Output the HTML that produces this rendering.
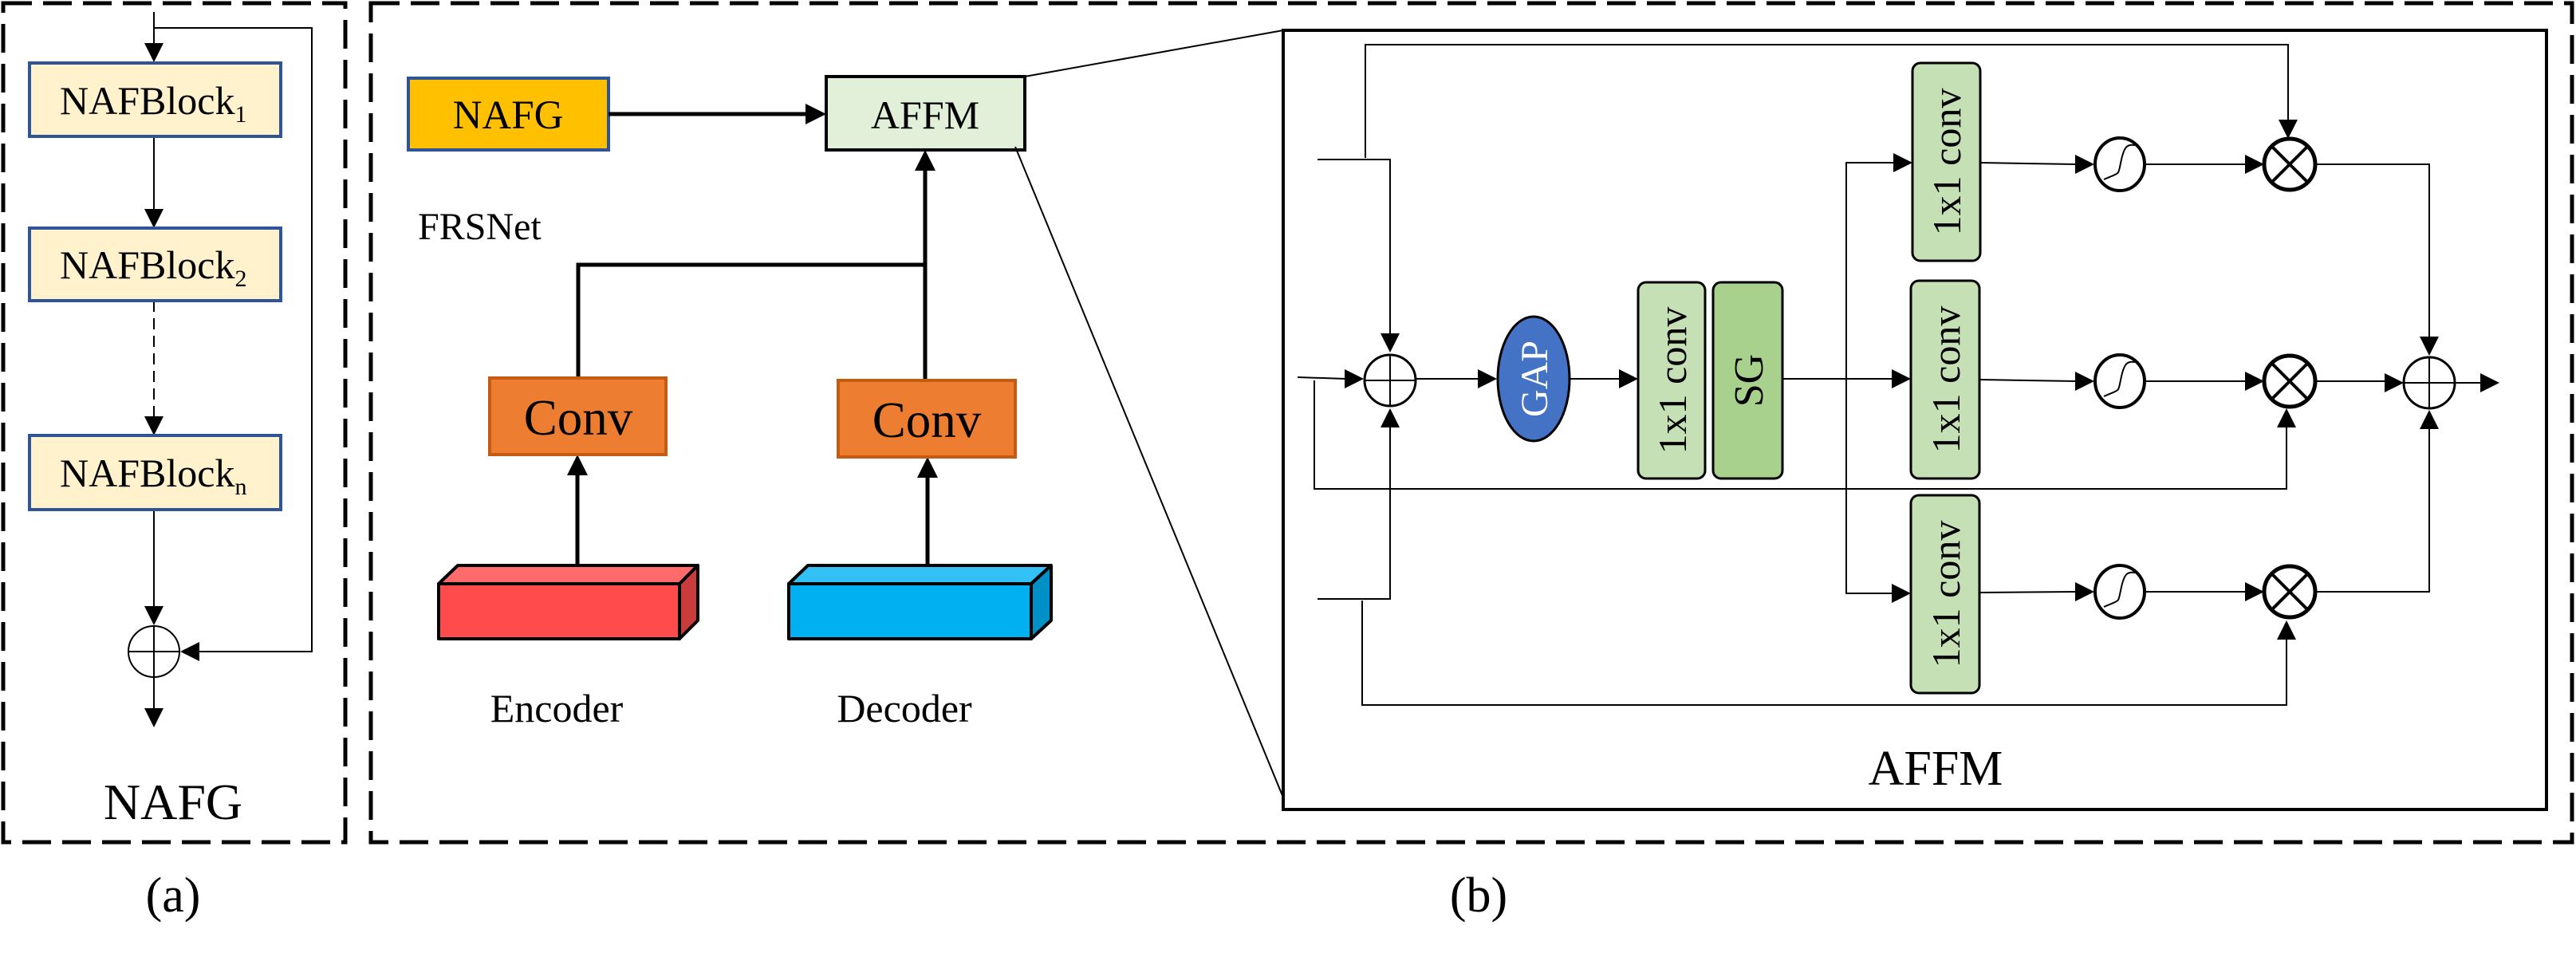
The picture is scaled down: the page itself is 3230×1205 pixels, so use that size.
<!DOCTYPE html>
<html><head><meta charset="utf-8"><style>
html,body{margin:0;padding:0;background:#fff}
svg{display:block}
text{font-family:"Liberation Serif",serif;fill:#000}
</style></head><body>
<svg width="3230" height="1205" viewBox="0 0 3230 1205" xmlns="http://www.w3.org/2000/svg">
<!-- dashed frames -->
<rect x="4" y="4" width="429" height="1052" fill="none" stroke="#000" stroke-width="5" stroke-dasharray="36,14"/>
<rect x="465" y="4" width="2760" height="1052" fill="none" stroke="#000" stroke-width="5" stroke-dasharray="36,14"/>

<!-- (a) NAFG -->
<g stroke="#000" stroke-width="2" fill="none">
<line x1="193" y1="15" x2="193" y2="56"/>
<polyline points="193,35 391,35 391,817 250,817"/>
<line x1="193" y1="171" x2="193" y2="262"/>
<line x1="193" y1="377" x2="193" y2="522" stroke-dasharray="14,8"/>
<line x1="193" y1="639" x2="193" y2="760"/>
<line x1="193" y1="849" x2="193" y2="890"/>
<circle cx="193" cy="817" r="32"/>
<line x1="161" y1="817" x2="225" y2="817"/>
<line x1="193" y1="785" x2="193" y2="849"/>
</g>
<g fill="#000">
<polygon points="181,54 205,54 193,78"/>
<polygon points="181,262 205,262 193,286"/>
<polygon points="181,522 205,522 193,546"/>
<polygon points="181,760 205,760 193,784"/>
<polygon points="181,888 205,888 193,912"/>
<polygon points="250,805 250,829 226,817"/>
</g>
<g fill="#fff2cc" stroke="#2f5597" stroke-width="4">
<rect x="37" y="79" width="315" height="92"/>
<rect x="37" y="286" width="315" height="91"/>
<rect x="37" y="546" width="315" height="93"/>
</g>
<text x="75" y="143" font-size="50">NAFBlock<tspan font-size="30" dy="10">1</tspan></text>
<text x="75" y="349" font-size="50">NAFBlock<tspan font-size="30" dy="10">2</tspan></text>
<text x="75" y="610" font-size="50">NAFBlock<tspan font-size="30" dy="10">n</tspan></text>
<text x="217" y="1027" font-size="64" text-anchor="middle">NAFG</text>
<text x="217" y="1143" font-size="62" text-anchor="middle">(a)</text>

<!-- (b) FRSNet -->
<rect x="512" y="98" width="251" height="90" fill="#ffc000" stroke="#2f5597" stroke-width="4"/>
<text x="637" y="161" font-size="51" text-anchor="middle">NAFG</text>
<rect x="1036" y="96" width="249" height="92" fill="#e2f0d9" stroke="#000" stroke-width="4"/>
<text x="1160" y="161" font-size="50" text-anchor="middle">AFFM</text>
<text x="524" y="300" font-size="48">FRSNet</text>
<g stroke="#000" stroke-width="5" fill="none">
<line x1="763" y1="143" x2="1012" y2="143"/>
<polyline points="725,474 725,332 1160,332"/>
<line x1="1160" y1="477" x2="1160" y2="212"/>
<line x1="724" y1="709" x2="724" y2="594"/>
<line x1="1163" y1="709" x2="1163" y2="597"/>
</g>
<g fill="#000">
<polygon points="1010,130 1010,156 1036,143"/>
<polygon points="1147,214 1173,214 1160,188"/>
<polygon points="711,596 737,596 724,570"/>
<polygon points="1150,599 1176,599 1163,573"/>
</g>
<rect x="614" y="474" width="221" height="96" fill="#ed7d31" stroke="#c55a11" stroke-width="4"/>
<text x="725" y="545" font-size="63" text-anchor="middle">Conv</text>
<rect x="1051" y="477" width="222" height="96" fill="#ed7d31" stroke="#c55a11" stroke-width="4"/>
<text x="1162" y="548" font-size="63" text-anchor="middle">Conv</text>
<g stroke="#000" stroke-width="4" stroke-linejoin="round">
<polygon points="550,732 574,709 875,709 852,732" fill="#ff6b6b"/>
<polygon points="852,732 875,709 875,778 852,801" fill="#c83c3c"/>
<rect x="550" y="732" width="302" height="69" fill="#ff4b4b"/>
<polygon points="989,732 1013,709 1318,709 1293,732" fill="#33c0f5"/>
<polygon points="1293,732 1318,709 1318,778 1293,801" fill="#0090c8"/>
<rect x="989" y="732" width="304" height="69" fill="#00b0f0"/>
</g>
<text x="698" y="905" font-size="50" text-anchor="middle">Encoder</text>
<text x="1134" y="905" font-size="50" text-anchor="middle">Decoder</text>

<!-- zoom lines -->
<line x1="1285" y1="96" x2="1609" y2="38" stroke="#000" stroke-width="2"/>
<line x1="1273" y1="184" x2="1609" y2="1000" stroke="#000" stroke-width="2"/>

<!-- AFFM detail -->
<rect x="1609" y="38" width="1584" height="977" fill="none" stroke="#000" stroke-width="4"/>
<g stroke="#000" stroke-width="2" fill="none">
<polyline points="1712,198 1712,56 2869,56 2869,150"/>
<polyline points="1652,200 1743,200 1743,420"/>
<line x1="1627" y1="473" x2="1688" y2="475"/>
<polyline points="1648,477 1648,613 2867,613 2867,536"/>
<polyline points="1652,751 1743,751 1743,534"/>
<polyline points="1708,753 1708,884 2867,884 2867,802"/>
<line x1="1776" y1="475" x2="1855" y2="475"/>
<line x1="1969" y1="475" x2="2032" y2="475"/>
<line x1="2235" y1="475" x2="2374" y2="475"/>
<polyline points="2376,204 2315,204 2315,744 2376,744"/>
<line x1="2483" y1="204" x2="2604" y2="206"/>
<line x1="2482" y1="476" x2="2604" y2="478"/>
<line x1="2482" y1="743" x2="2604" y2="742"/>
<line x1="2691" y1="206" x2="2815" y2="206"/>
<line x1="2691" y1="478" x2="2815" y2="478"/>
<line x1="2691" y1="742" x2="2815" y2="742"/>
<polyline points="2903,206 3046,206 3046,422"/>
<line x1="2903" y1="478" x2="2992" y2="478"/>
<polyline points="2903,742 3046,742 3046,538"/>
<line x1="3078" y1="480" x2="3110" y2="480"/>
</g>
<g fill="#000">
<polygon points="2857,150 2881,150 2869,174"/>
<polygon points="1731,418 1755,418 1743,442"/>
<polygon points="1686,463 1686,487 1710,475"/>
<polygon points="1731,536 1755,536 1743,512"/>
<polygon points="2855,536 2879,536 2867,512"/>
<polygon points="2855,802 2879,802 2867,778"/>
<polygon points="1853,463 1853,487 1877,475"/>
<polygon points="2030,463 2030,487 2054,475"/>
<polygon points="2372,463 2372,487 2396,475"/>
<polygon points="2374,192 2374,216 2398,204"/>
<polygon points="2372,732 2372,756 2396,744"/>
<polygon points="2602,194 2602,218 2626,206"/>
<polygon points="2602,466 2602,490 2626,478"/>
<polygon points="2602,730 2602,754 2626,742"/>
<polygon points="2815,194 2815,218 2839,206"/>
<polygon points="2815,466 2815,490 2839,478"/>
<polygon points="2815,730 2815,754 2839,742"/>
<polygon points="3034,422 3058,422 3046,446"/>
<polygon points="2990,468 2990,492 3014,480"/>
<polygon points="3034,538 3058,538 3046,514"/>
<polygon points="3110,468 3110,492 3134,480"/>
</g>
<g stroke="#000" stroke-width="3" fill="#fff">
<circle cx="1743" cy="477" r="32"/>
<circle cx="3046" cy="480" r="32"/>
</g>
<g stroke="#000" stroke-width="2">
<line x1="1711" y1="477" x2="1775" y2="477"/><line x1="1743" y1="445" x2="1743" y2="509"/>
<line x1="3014" y1="480" x2="3078" y2="480"/><line x1="3046" y1="448" x2="3046" y2="512"/>
</g>
<g stroke="#000" stroke-width="5" fill="#fff">
<circle cx="2871" cy="206" r="32"/>
<circle cx="2871" cy="478" r="32"/>
<circle cx="2871" cy="742" r="32"/>
</g>
<g stroke="#000" stroke-width="4">
<line x1="2848" y1="183" x2="2894" y2="229"/><line x1="2894" y1="183" x2="2848" y2="229"/>
<line x1="2848" y1="455" x2="2894" y2="501"/><line x1="2894" y1="455" x2="2848" y2="501"/>
<line x1="2848" y1="719" x2="2894" y2="765"/><line x1="2894" y1="719" x2="2848" y2="765"/>
</g>
<g stroke="#000" stroke-width="4" fill="#fff">
<ellipse cx="2658" cy="206" rx="31" ry="33"/>
<ellipse cx="2658" cy="478" rx="31" ry="33"/>
<ellipse cx="2658" cy="742" rx="31" ry="33"/>
</g>
<g stroke="#000" stroke-width="2" fill="none">
<path d="M2638,225 C2660,215 2655,222 2660,200 C2664,182 2668,181 2678,182"/>
<path d="M2638,497 C2660,487 2655,494 2660,472 C2664,454 2668,453 2678,454"/>
<path d="M2638,761 C2660,751 2655,758 2660,736 C2664,718 2668,717 2678,718"/>
</g>
<ellipse cx="1923" cy="475" rx="45" ry="78" fill="#4472c4" stroke="#000" stroke-width="3"/>
<text transform="translate(1940,475) rotate(-90)" font-size="48" text-anchor="middle" style="fill:#fff">GAP</text>
<g stroke="#000" stroke-width="3">
<rect x="2054" y="354" width="84" height="246" rx="10" fill="#c5e0b4"/>
<rect x="2148" y="354" width="87" height="246" rx="10" fill="#a9d18e"/>
<rect x="2398" y="79" width="85" height="248" rx="10" fill="#c5e0b4"/>
<rect x="2396" y="352" width="86" height="248" rx="10" fill="#c5e0b4"/>
<rect x="2396" y="621" width="86" height="248" rx="10" fill="#c5e0b4"/>
</g>
<text transform="translate(2114,477) rotate(-90)" font-size="50" text-anchor="middle">1x1 conv</text>
<text transform="translate(2210,477) rotate(-90)" font-size="52" text-anchor="middle">SG</text>
<text transform="translate(2458,203) rotate(-90)" font-size="50" text-anchor="middle">1x1 conv</text>
<text transform="translate(2457,476) rotate(-90)" font-size="50" text-anchor="middle">1x1 conv</text>
<text transform="translate(2457,745) rotate(-90)" font-size="50" text-anchor="middle">1x1 conv</text>
<text x="2427" y="984" font-size="62" text-anchor="middle">AFFM</text>
<text x="1854" y="1143" font-size="62" text-anchor="middle">(b)</text>
</svg>
</body></html>
